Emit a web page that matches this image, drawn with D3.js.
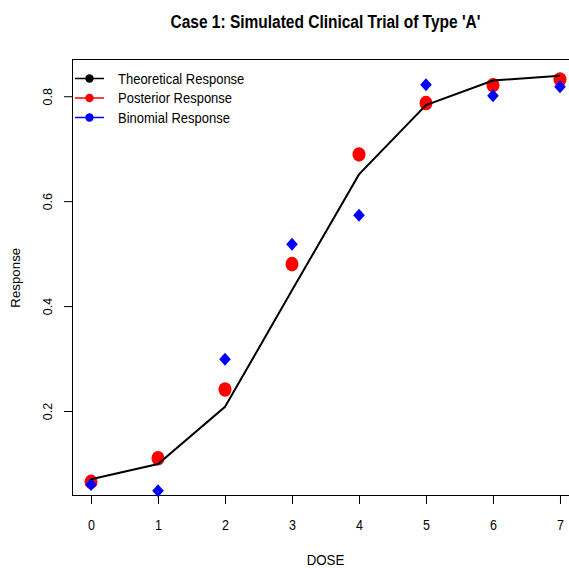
<!DOCTYPE html>
<html><head><meta charset="utf-8">
<script src="https://cdn.jsdelivr.net/npm/d3@7/dist/d3.min.js"></script>
<style>body{margin:0;background:#fff}svg{display:block}text{font-family:"Liberation Sans",Arial,sans-serif}</style>
</head><body>
<script>
const doses = [0,1,2,3,4,5,6,7];
const theoretical = [0.070,0.099,0.208,0.430,0.651,0.783,0.830,0.839];
const posterior = [0.065,0.110,0.241,0.480,0.689,0.787,0.821,0.832];
const binomial = [0.060,0.048,0.2985,0.518,0.573,0.822,0.801,0.818];
const xTicks = [0,1,2,3,4,5,6,7];
const yTicks = [0.2,0.4,0.6,0.8];
const legendLabels = ["Theoretical Response","Posterior Response","Binomial Response"];
const legendColors = ["#000000","#ff0000","#0000ff"];

const W=569,H=568, SY=1.16;
const svg=d3.select("body").append("svg").attr("width",W).attr("height",H);
const L=72, R=579, T=59.5, B=496;
const x=d3.scaleLinear().domain([-0.284,7.284]).range([L,R]);
const y=d3.scaleLinear().domain([0.038,0.870]).range([B,T]);

// box
svg.append("rect").attr("x",L+0.5).attr("y",T).attr("width",R-L).attr("height",B-T-0.5)
  .attr("fill","none").attr("stroke","#000").attr("stroke-width",1);

// x axis
const xa=svg.append("g").attr("transform",`translate(0,${B})`)
  .call(d3.axisBottom(x).tickValues(xTicks).tickSize(8).tickFormat(d3.format("d")));
xa.select(".domain").remove();
xa.selectAll("line").attr("stroke","#000");
xa.selectAll("text").remove();
xa.selectAll(".tick").append("text")
  .attr("transform",`translate(0,34) scale(1,${SY})`)
  .attr("text-anchor","middle").attr("font-size",12.5).attr("fill","#000")
  .text(d=>d3.format("d")(d));

// y axis
const ya=svg.append("g").attr("transform",`translate(${L},0)`)
  .call(d3.axisLeft(y).tickValues(yTicks).tickSize(8).tickFormat(d3.format(".1f")));
ya.select(".domain").remove();
ya.selectAll("line").attr("stroke","#000");
ya.selectAll("text").remove();
ya.selectAll(".tick").append("text")
  .attr("transform","translate(-20,0) rotate(-90)")
  .attr("text-anchor","middle").attr("font-size",12.5).attr("fill","#000")
  .text(d=>d3.format(".1f")(d));

// labels
svg.append("text").attr("transform",`translate(${(L+R)/2},28) scale(1,${SY})`).attr("text-anchor","middle")
  .attr("font-size",15.5).attr("font-weight","bold").text("Case 1: Simulated Clinical Trial of Type 'A'");
svg.append("text").attr("transform",`translate(${(L+R)/2},565) scale(1,${SY})`).attr("text-anchor","middle")
  .attr("font-size",13.3).text("DOSE");
svg.append("text").attr("transform",`translate(20,${(T+B)/2}) rotate(-90)`).attr("text-anchor","middle")
  .attr("font-size",13.3).text("Response");

// posterior points
svg.append("g").selectAll("ellipse").data(doses).join("ellipse")
  .attr("cx",(d)=>x(d)).attr("cy",(d,i)=>y(posterior[i])).attr("rx",6.5).attr("ry",7.3).attr("fill","#ff0000");
// binomial diamonds
svg.append("g").selectAll("path").data(doses).join("path")
  .attr("transform",(d,i)=>`translate(${x(d)},${y(binomial[i])})`)
  .attr("d","M0,-6.5L5.8,0L0,6.5L-5.8,0Z").attr("fill","#0000ff");
// theoretical line
svg.append("path").datum(doses)
  .attr("d",d3.line().x(d=>x(d)).y((d,i)=>y(theoretical[i])))
  .attr("fill","none").attr("stroke","#000").attr("stroke-width",2);

// legend
const lg=svg.append("g");
legendLabels.forEach((lab,i)=>{
  const yy=78.5+i*19.5;
  lg.append("line").attr("x1",75).attr("x2",104).attr("y1",yy).attr("y2",yy)
    .attr("stroke",legendColors[i]).attr("stroke-width",1.5);
  lg.append("circle").attr("cx",89.5).attr("cy",yy).attr("r",4.2).attr("fill",legendColors[i]);
  lg.append("text").attr("transform",`translate(118,${yy+5.3}) scale(1,${SY})`).attr("font-size",13).text(lab);
});
</script>
</body></html>
